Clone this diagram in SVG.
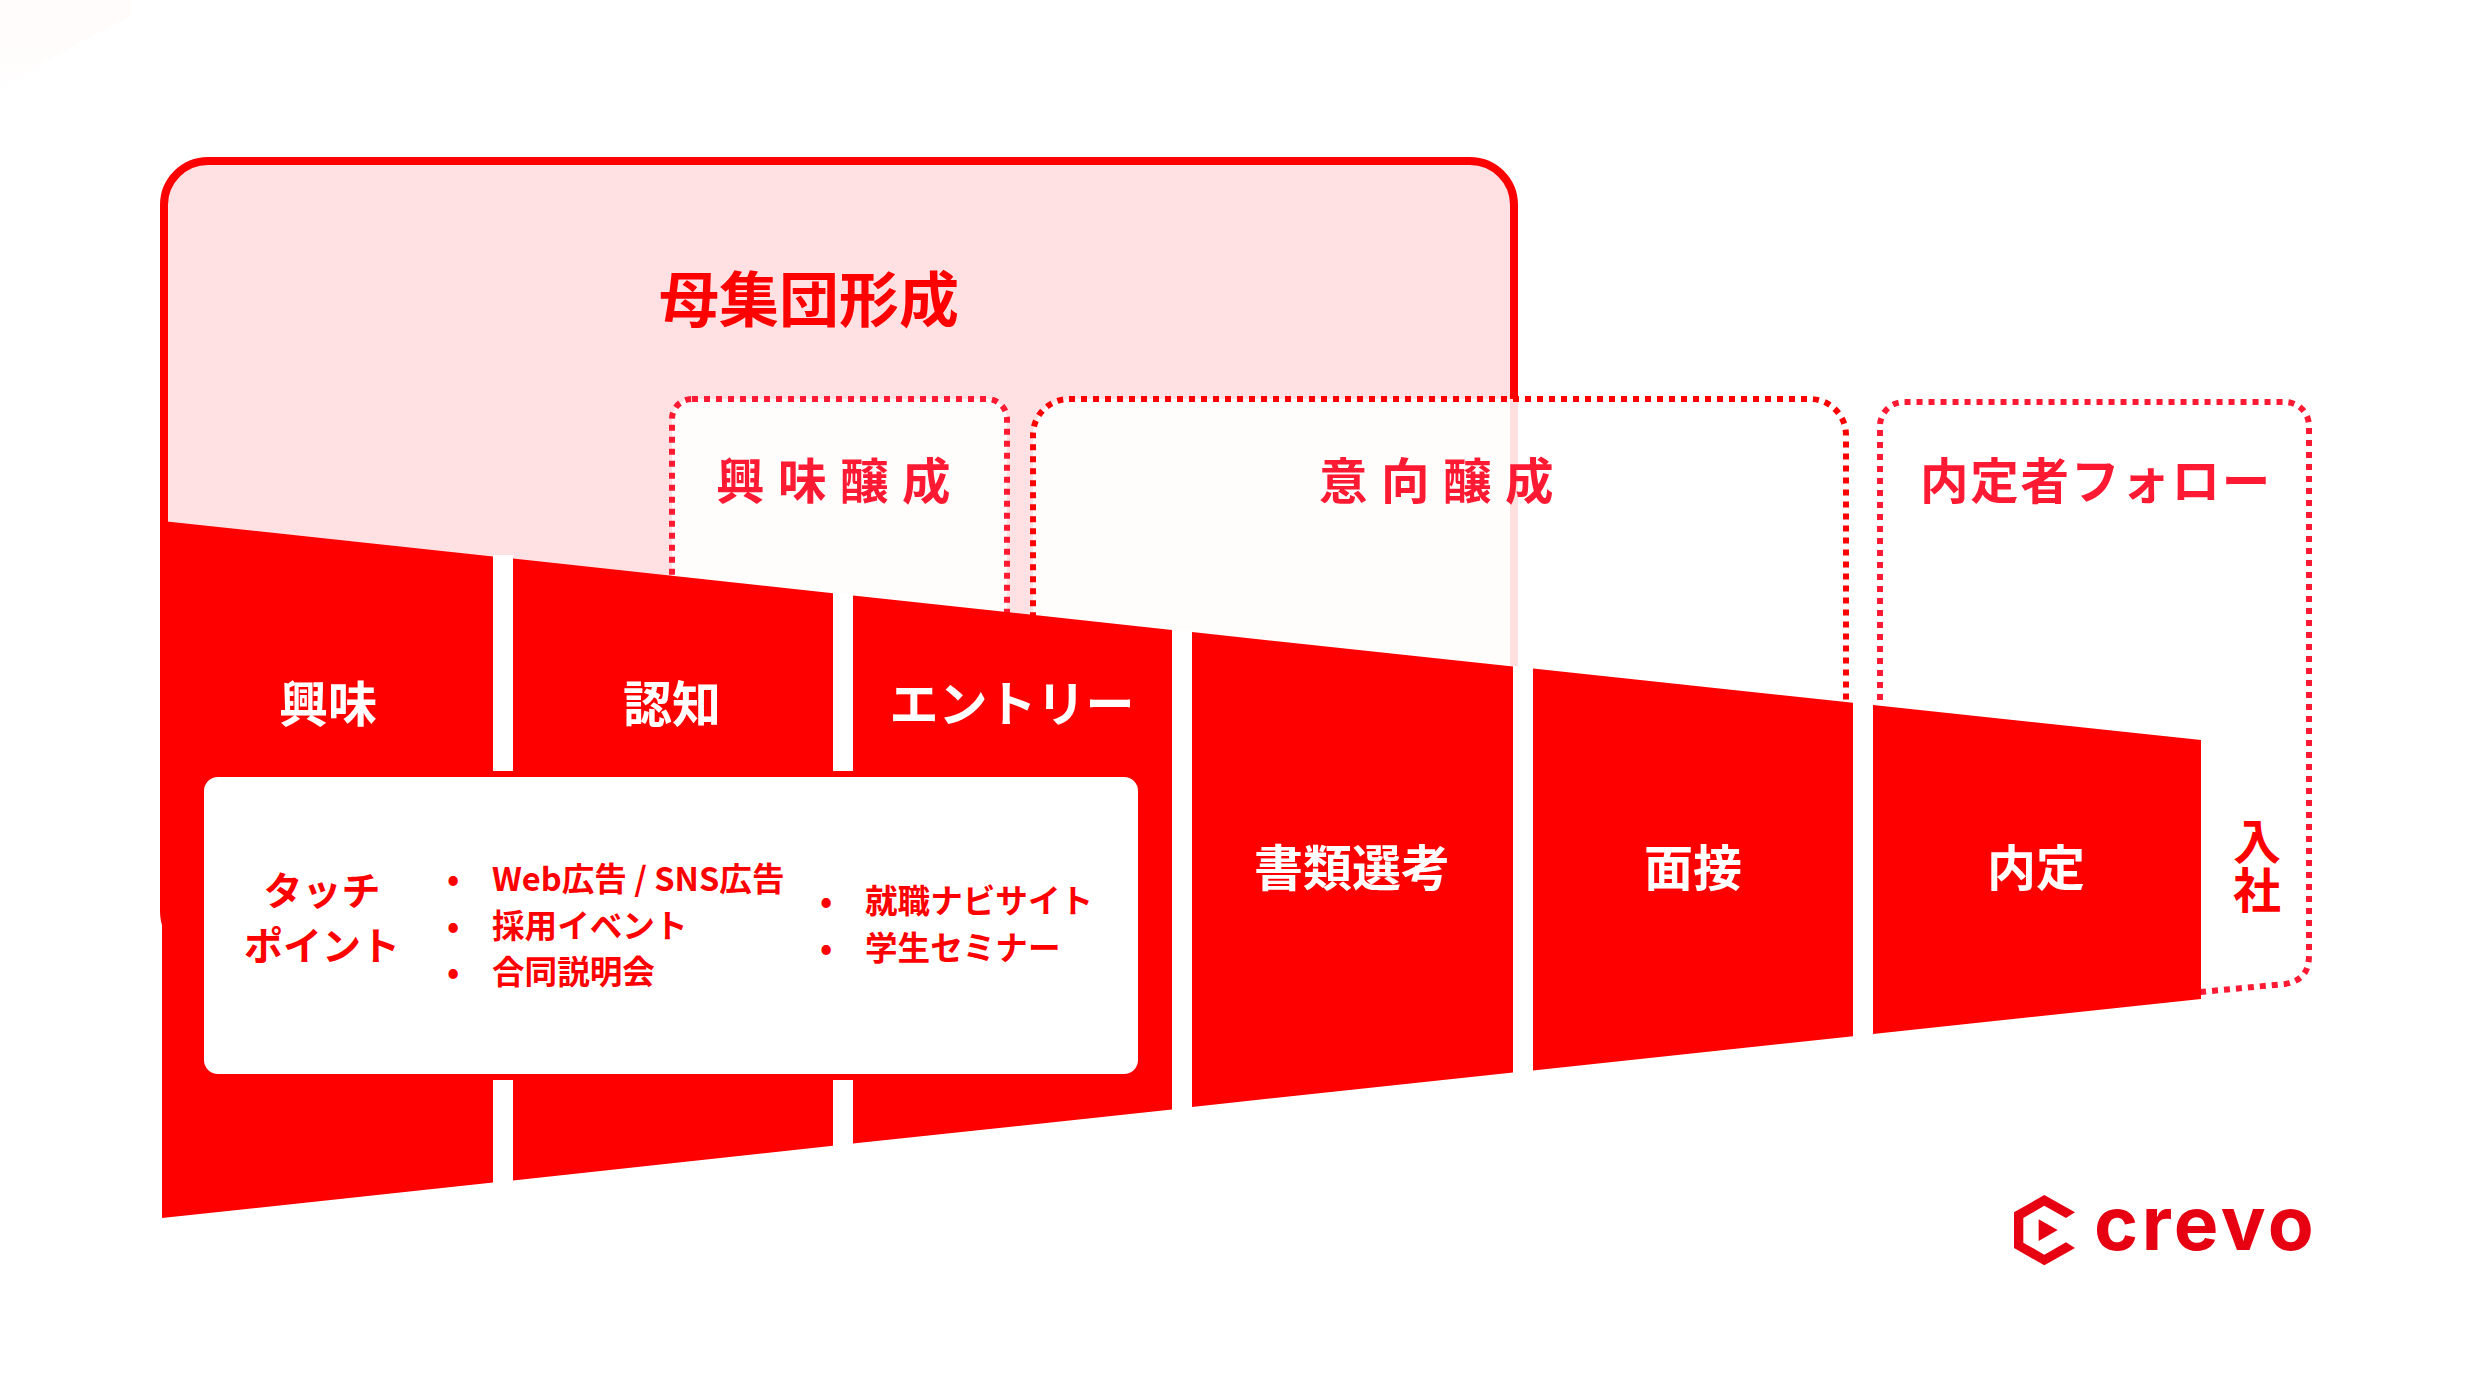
<svg xmlns="http://www.w3.org/2000/svg" width="2488" height="1396" viewBox="0 0 2488 1396">
<style>
text{font-family:"Noto Sans CJK JP","Noto Sans",sans-serif;font-weight:700}
.w{fill:#fff;font-size:49px;text-anchor:middle}
.r{fill:#f00}
.p{fill:#ff1a33;font-size:48.5px;font-weight:700}
.s{fill:#f00}
.l{fill:#f00;font-size:32.6px}
.d{fill:none;stroke-width:6;stroke-dasharray:6 6}
.f{fill:#fff;fill-opacity:.88;stroke:none}
</style>
<defs><linearGradient id="g" x1="0" y1="0" x2="0" y2="1"><stop offset="0" stop-color="#fffbf9"/><stop offset="1" stop-color="#fffefe"/></linearGradient></defs>
<rect width="2488" height="1396" fill="#fff"/>
<polygon points="0,0 131,0 131,16 80,42 0,88" fill="url(#g)"/>
<g id="group-main"><rect x="164" y="161" width="1350" height="794" rx="44" fill="#ffe1e4" stroke="#f00" stroke-width="8"/>
<text x="809" y="322" class="r" font-size="60" text-anchor="middle">母集団形成</text></g>
<g id="group-kyomi">
<rect x="672" y="399" width="335" height="340" rx="20" class="f"/><rect x="672" y="399" width="335" height="340" rx="20" class="d" stroke="#ff1a33"/>
<text x="716" y="499" class="p" letter-spacing="13.5">興味醸成</text></g>
<g id="group-ikou">
<rect x="1033" y="399" width="813" height="400" rx="36" class="f"/><rect x="1033" y="399" width="813" height="400" rx="36" class="d" stroke="#f00"/>
<text x="1319" y="499" class="p" letter-spacing="13.5">意向醸成</text></g>
<g id="group-follow">
<path d="M1880 760V426A24 24 0 0 1 1904 402H2285A24 24 0 0 1 2309 426V955C2309 973 2301 981 2285 984L2190 993Z" class="d" stroke="#ff1a33"/>
<text x="1920" y="499" class="p" letter-spacing="1.8">内定者フォロー</text></g>
<g id="connectors">
<rect x="493" y="555" width="20" height="300" fill="#fff"/>
<rect x="833" y="593" width="20" height="300" fill="#fff"/>
<rect x="1172" y="630" width="20" height="500" fill="#fff"/>
<rect x="1513" y="666" width="20" height="400" fill="#fff"/>
<rect x="1853" y="702" width="20" height="300" fill="#fff"/>
</g>
<g id="stage-kyomi"><polygon points="162,521 493,556.4 493,1182.6 162,1218" class="s"/><text x="328" y="722" class="w">興味</text></g>
<g id="stage-ninchi"><polygon points="513,558.5 833,593.2 833,1145.8 513,1180.5" class="s"/><text x="672" y="722" class="w">認知</text></g>
<g id="stage-entry"><polygon points="853,595.4 1172,630 1172,1109.5 853,1143.6" class="s"/><text x="1012" y="722" class="w">エントリー</text></g>
<g id="stage-shorui"><polygon points="1192,632.1 1513,666.4 1513,1072.6 1192,1106.9" class="s"/><text x="1352" y="886" class="w">書類選考</text></g>
<g id="stage-mensetsu"><polygon points="1533,668.5 1853,702.7 1853,1036.3 1533,1070.5" class="s"/><text x="1693" y="886" class="w">面接</text></g>
<g id="stage-naitei"><polygon points="1873,704.9 2201,740 2201,999 1873,1034.1" class="s"/><text x="2036" y="886" class="w">内定</text></g>
<g id="stage-nyusha"><text class="r" font-size="48" text-anchor="middle"><tspan x="2257" y="859">入</tspan><tspan x="2257" y="908">社</tspan></text></g>
<g id="touchpoint">
<rect x="201" y="774" width="940" height="303" rx="17" fill="#fff" stroke="#f00" stroke-width="6"/>
<text class="r" font-size="39" text-anchor="middle"><tspan x="322" y="905">タッチ</tspan><tspan x="322" y="960">ポイント</tspan></text>
<g class="l">
<text x="447" y="891">•</text><text x="492" y="891">Web広告 / SNS広告</text>
<text x="447" y="938">•</text><text x="492" y="938">採用イベント</text>
<text x="447" y="984">•</text><text x="492" y="984">合同説明会</text>
<text x="820" y="913">•</text><text x="865" y="913">就職ナビサイト</text>
<text x="820" y="960">•</text><text x="865" y="960">学生セミナー</text>
</g></g>
<g id="logo" fill="#e60012">
<path transform="translate(1960 1150) scale(.3333)" d="M253 135L345 187 318 204 253 167 190 204V278L253 314 318 277 345 294 253 346 162 294V187ZM236 208L293 240 236 273Z"/>
<text x="2094" y="1250" font-size="75" style="font-family:Inter,sans-serif;font-weight:700" letter-spacing="3.5">crevo</text>
</g>
</svg>
